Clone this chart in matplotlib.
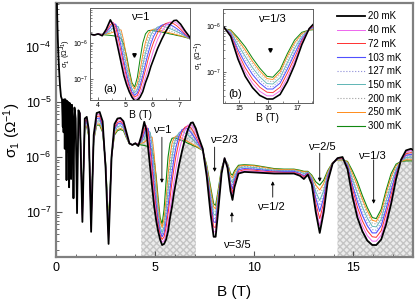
import numpy as np
import matplotlib
matplotlib.use('Agg')
import matplotlib.pyplot as plt
from matplotlib.ticker import LogLocator, MultipleLocator, NullFormatter

plt.rcParams['font.family'] = ['Liberation Sans', 'DejaVu Sans']
plt.rcParams['mathtext.default'] = 'regular'

temps = ['20 mK', '40 mK', '72 mK', '103 mK', '127 mK', '150 mK', '200 mK', '250 mK', '300 mK']
colors = ['k', '#ee66ee', '#ff3030', '#5050ff', '#8c8cd8', '#5fb5b5', '#a0a0a0', '#ff8c1a', '#118811']
styles = ['-', '-', '-', '-', ':', '-', ':', '-', '-']
widths = [1.3, 0.7, 0.7, 0.8, 0.8, 0.7, 0.8, 0.7, 0.8]

# low field SdH part, only the 20 mK trace is visible there (log10 sigma)
B_sdh = [0.03, 0.06, 0.09, 0.12, 0.16, 0.2, 0.25, 0.3, 0.34, 0.36, 0.38, 0.41, 0.44, 0.47, 0.5,
         0.53, 0.56, 0.59, 0.62, 0.66, 0.7, 0.73, 0.76, 0.8, 0.84, 0.88, 0.93, 0.99, 1.06, 1.13]
lg_sdh = [-2.9, -3.45, -3.85, -4.15, -4.45, -4.7, -4.9, -4.95, -5.45, -4.97, -5.55, -4.95, -5.85, -4.95, -5.2,
          -6.42, -4.98, -5.9, -5.0, -6.55, -5.02, -5.6, -6.4, -5.05, -5.3, -6.75, -5.1, -5.3, -7.02, -5.15]

# common field grid for all temperatures
B = [1.2, 1.33, 1.45, 1.55, 1.65, 1.77, 1.9, 2.05, 2.2, 2.35, 2.5, 2.65, 2.8, 2.95, 3.1, 3.25, 3.4, 3.55, 3.7, 3.85,
     4.0, 4.15, 4.3, 4.45, 4.55, 4.65, 4.75, 4.85, 4.95, 5.05, 5.15, 5.25, 5.35, 5.45, 5.55, 5.65, 5.75, 5.85, 5.95, 6.05, 6.2, 6.35, 6.5, 6.65, 6.8, 6.9, 7.05, 7.2, 7.4,
     7.6, 7.8, 7.95, 8.05, 8.2, 8.35, 8.5, 8.65, 8.8, 8.9, 9.0, 9.2, 9.5,
     10.0, 10.5, 11.0, 11.5, 12.0, 12.3, 12.5, 12.7, 12.9, 13.1, 13.3, 13.5, 13.7, 13.95, 14.2, 14.45, 14.7, 14.95, 15.2, 15.45, 15.7, 15.95, 16.15, 16.4, 16.65, 16.9, 17.15, 17.4, 17.65, 17.9, 18.0]

lg20 = [-5.20, -7.18, -5.30, -5.27, -5.50, -7.36, -5.60, -5.20, -5.18, -5.35, -6.20, -7.58, -6.00, -5.40, -5.30, -5.29, -5.35, -5.55, -5.75, -5.78,
        -5.75, -5.80, -5.62, -5.36, -5.50, -5.85, -6.20, -6.55, -6.90, -7.15, -7.35, -7.50, -7.60, -7.58, -7.50, -7.35, -7.10, -6.90, -6.65, -6.45, -6.15, -5.90, -5.68, -5.50, -5.38, -5.37, -5.48, -5.65, -5.85,
        -6.35, -7.05, -7.45, -7.45, -6.90, -6.30, -6.02, -6.20, -6.62, -6.78, -6.55, -6.30, -6.27,
        -6.28, -6.29, -6.30, -6.30, -6.30, -6.34, -6.40, -6.32, -6.50, -7.00, -7.38, -7.00, -6.45, -6.12, -6.02, -6.00, -6.22, -6.72, -7.10, -7.35, -7.52, -7.60, -7.60, -7.50, -7.22, -6.85, -6.40, -6.05, -5.88, -5.85, -5.87]
lg40 = [-5.20, -7.14, -5.32, -5.30, -5.52, -7.31, -5.62, -5.23, -5.22, -5.38, -6.19, -7.52, -6.00, -5.43, -5.33, -5.32, -5.38, -5.57, -5.75, -5.78,
        -5.75, -5.78, -5.65, -5.42, -5.43, -5.70, -6.05, -6.40, -6.75, -7.05, -7.30, -7.48, -7.55, -7.52, -7.40, -7.20, -6.95, -6.70, -6.45, -6.20, -5.90, -5.68, -5.52, -5.42, -5.41, -5.45, -5.55, -5.70, -5.85,
        -6.32, -6.98, -7.36, -7.36, -6.85, -6.29, -6.02, -6.19, -6.57, -6.71, -6.51, -6.28, -6.25,
        -6.26, -6.27, -6.29, -6.29, -6.29, -6.33, -6.38, -6.31, -6.47, -6.92, -7.25, -6.91, -6.42, -6.12, -6.02, -6.01, -6.20, -6.65, -7.00, -7.25, -7.43, -7.53, -7.53, -7.42, -7.13, -6.77, -6.36, -6.05, -5.91, -5.88, -5.90]
lg72 = [-5.21, -7.10, -5.35, -5.32, -5.54, -7.25, -5.63, -5.27, -5.25, -5.41, -6.17, -7.47, -6.00, -5.46, -5.37, -5.35, -5.40, -5.58, -5.75, -5.78,
        -5.75, -5.77, -5.68, -5.50, -5.43, -5.55, -5.90, -6.25, -6.62, -6.95, -7.22, -7.42, -7.50, -7.45, -7.28, -7.03, -6.75, -6.45, -6.20, -5.98, -5.72, -5.55, -5.46, -5.43, -5.47, -5.52, -5.62, -5.74, -5.86,
        -6.29, -6.90, -7.27, -7.28, -6.80, -6.27, -6.03, -6.18, -6.52, -6.65, -6.46, -6.26, -6.23,
        -6.24, -6.26, -6.27, -6.28, -6.28, -6.31, -6.36, -6.30, -6.45, -6.84, -7.12, -6.83, -6.39, -6.11, -6.03, -6.02, -6.18, -6.58, -6.91, -7.16, -7.34, -7.45, -7.46, -7.34, -7.03, -6.69, -6.32, -6.06, -5.94, -5.92, -5.93]
lg103 = [-5.21, -7.05, -5.37, -5.35, -5.55, -7.20, -5.65, -5.30, -5.29, -5.44, -6.16, -7.41, -6.00, -5.49, -5.40, -5.38, -5.43, -5.60, -5.75, -5.78,
         -5.75, -5.77, -5.70, -5.57, -5.48, -5.48, -5.75, -6.10, -6.50, -6.85, -7.15, -7.36, -7.45, -7.38, -7.18, -6.90, -6.58, -6.28, -6.02, -5.82, -5.62, -5.51, -5.47, -5.49, -5.55, -5.60, -5.68, -5.77, -5.87,
         -6.26, -6.83, -7.18, -7.19, -6.74, -6.26, -6.03, -6.16, -6.48, -6.58, -6.42, -6.23, -6.21,
         -6.22, -6.24, -6.26, -6.26, -6.26, -6.30, -6.34, -6.29, -6.42, -6.75, -6.99, -6.74, -6.36, -6.11, -6.03, -6.02, -6.16, -6.51, -6.81, -7.06, -7.25, -7.38, -7.38, -7.25, -6.94, -6.60, -6.28, -6.06, -5.97, -5.95, -5.96]
lg127 = [-5.21, -7.02, -5.39, -5.37, -5.57, -7.15, -5.66, -5.33, -5.32, -5.46, -6.14, -7.36, -6.00, -5.51, -5.43, -5.41, -5.45, -5.61, -5.76, -5.78,
         -5.75, -5.76, -5.72, -5.62, -5.53, -5.49, -5.62, -5.95, -6.38, -6.76, -7.08, -7.32, -7.42, -7.33, -7.08, -6.76, -6.42, -6.12, -5.88, -5.72, -5.57, -5.50, -5.51, -5.55, -5.61, -5.65, -5.72, -5.79, -5.88,
         -6.24, -6.77, -7.11, -7.13, -6.70, -6.24, -6.04, -6.15, -6.44, -6.52, -6.38, -6.21, -6.20,
         -6.21, -6.23, -6.25, -6.25, -6.25, -6.28, -6.32, -6.29, -6.40, -6.69, -6.88, -6.67, -6.34, -6.11, -6.04, -6.03, -6.14, -6.45, -6.73, -6.98, -7.18, -7.32, -7.33, -7.19, -6.87, -6.54, -6.25, -6.07, -5.99, -5.98, -5.98]
lg150 = [-5.21, -6.99, -5.40, -5.39, -5.58, -7.12, -5.67, -5.35, -5.34, -5.49, -6.13, -7.32, -6.00, -5.54, -5.45, -5.43, -5.47, -5.62, -5.76, -5.78,
         -5.75, -5.76, -5.73, -5.66, -5.59, -5.53, -5.55, -5.82, -6.25, -6.66, -7.00, -7.27, -7.38, -7.27, -6.98, -6.62, -6.28, -6.00, -5.78, -5.65, -5.56, -5.53, -5.56, -5.60, -5.65, -5.68, -5.74, -5.80, -5.88,
         -6.21, -6.71, -7.04, -7.06, -6.66, -6.23, -6.04, -6.15, -6.40, -6.47, -6.35, -6.20, -6.18,
         -6.19, -6.22, -6.24, -6.25, -6.25, -6.27, -6.30, -6.28, -6.38, -6.63, -6.79, -6.61, -6.31, -6.11, -6.04, -6.03, -6.12, -6.40, -6.66, -6.91, -7.11, -7.26, -7.27, -7.13, -6.80, -6.48, -6.22, -6.07, -6.01, -6.00, -6.01]
lg200 = [-5.22, -6.96, -5.42, -5.41, -5.60, -7.07, -5.68, -5.38, -5.37, -5.51, -6.12, -7.28, -6.00, -5.56, -5.48, -5.46, -5.49, -5.63, -5.76, -5.78,
         -5.75, -5.76, -5.74, -5.70, -5.65, -5.60, -5.57, -5.68, -6.10, -6.55, -6.92, -7.22, -7.33, -7.20, -6.88, -6.48, -6.12, -5.86, -5.70, -5.62, -5.58, -5.60, -5.63, -5.67, -5.70, -5.72, -5.76, -5.81, -5.88,
         -6.19, -6.65, -6.97, -6.99, -6.62, -6.22, -6.04, -6.14, -6.36, -6.42, -6.31, -6.18, -6.17,
         -6.18, -6.20, -6.23, -6.24, -6.24, -6.26, -6.29, -6.27, -6.36, -6.56, -6.68, -6.54, -6.29, -6.10, -6.04, -6.04, -6.11, -6.34, -6.58, -6.83, -7.04, -7.20, -7.22, -7.06, -6.72, -6.41, -6.18, -6.07, -6.03, -6.03, -6.03]
lg250 = [-5.22, -6.93, -5.44, -5.43, -5.61, -7.04, -5.69, -5.40, -5.40, -5.53, -6.11, -7.24, -6.00, -5.58, -5.50, -5.48, -5.50, -5.64, -5.76, -5.78,
         -5.75, -5.76, -5.75, -5.73, -5.70, -5.67, -5.64, -5.64, -5.95, -6.42, -6.84, -7.16, -7.28, -7.12, -6.76, -6.33, -5.98, -5.75, -5.65, -5.62, -5.63, -5.66, -5.69, -5.72, -5.75, -5.77, -5.80, -5.83, -5.88,
         -6.17, -6.60, -6.91, -6.94, -6.59, -6.21, -6.05, -6.13, -6.33, -6.38, -6.28, -6.17, -6.15,
         -6.16, -6.19, -6.22, -6.23, -6.23, -6.25, -6.27, -6.27, -6.35, -6.51, -6.60, -6.48, -6.27, -6.10, -6.05, -6.05, -6.09, -6.30, -6.52, -6.77, -6.98, -7.15, -7.17, -7.01, -6.66, -6.36, -6.16, -6.08, -6.05, -6.05, -6.05]
lg300 = [-5.22, -6.90, -5.45, -5.45, -5.62, -7.00, -5.70, -5.42, -5.42, -5.55, -6.10, -7.20, -6.00, -5.60, -5.52, -5.50, -5.52, -5.65, -5.76, -5.78,
         -5.76, -5.77, -5.78, -5.79, -5.80, -5.81, -5.83, -5.88, -6.05, -6.35, -6.75, -7.10, -7.22, -6.95, -6.45, -6.00, -5.75, -5.66, -5.65, -5.66, -5.68, -5.70, -5.72, -5.75, -5.77, -5.79, -5.81, -5.84, -5.88,
         -6.15, -6.55, -6.85, -6.88, -6.55, -6.20, -6.05, -6.12, -6.30, -6.33, -6.25, -6.15, -6.14,
         -6.15, -6.18, -6.21, -6.22, -6.22, -6.24, -6.26, -6.26, -6.33, -6.45, -6.51, -6.42, -6.25, -6.10, -6.05, -6.05, -6.08, -6.25, -6.45, -6.70, -6.92, -7.10, -7.12, -6.95, -6.60, -6.30, -6.13, -6.08, -6.07, -6.07, -6.07]

series = [lg20, lg40, lg72, lg103, lg127, lg150, lg200, lg250, lg300]

# filling factor labels: text position and arrow (B, log10 from, log10 to)
nu_text = ['ν=1', 'ν=2/3', 'ν=3/5', 'ν=1/2', 'ν=2/5', 'ν=1/3']
nu_text_B = [5.34, 8.46, 9.12, 10.83, 13.4, 15.92]
nu_text_lg = [-5.51, -5.69, -7.6, -6.91, -5.82, -5.98]
arrow_B = [5.34, 8.0, 8.87, 10.93, 13.3, 16.02]
arrow_from = [-5.64, -5.82, -7.18, -6.73, -5.93, -6.05]
arrow_to = [-6.47, -6.27, -7.0, -6.44, -6.45, -6.85]

Bg = np.array(B)
sig = [10 ** np.array(s) for s in series]
B_black = np.concatenate([B_sdh, Bg])
sig_black = 10 ** np.concatenate([lg_sdh, lg20])

fig = plt.figure(figsize=(4.15, 3.05), dpi=100)
ax = fig.add_axes([0.135, 0.157, 0.860, 0.833])

ylo, yhi = 10 ** -7.82, 10 ** -3.2
# hatched regions under the 20 mK curve
for lo, hi in [(4.3, 7.05), (14.2, 18.0)]:
    ax.fill_between(Bg, ylo / 10, sig[0], where=(Bg >= lo) & (Bg <= hi),
                    facecolor='#ececec', edgecolor='#c4c4c4', hatch='xxxxx', linewidth=0, zorder=1)

handles = [None] * 9
for i in range(8, -1, -1):
    if i == 0:
        h, = ax.plot(B_black, sig_black, color=colors[0], ls=styles[0], lw=widths[0], zorder=3)
    else:
        h, = ax.plot(Bg, sig[i], color=colors[i], ls=styles[i], lw=widths[i], zorder=2)
    handles[i] = h

ax.set_yscale('log')
ax.set_xlim(0, 18)
ax.set_ylim(ylo, yhi)
ax.xaxis.set_major_locator(MultipleLocator(5))
ax.xaxis.set_minor_locator(MultipleLocator(1))
ax.yaxis.set_major_locator(LogLocator(base=10))
ax.yaxis.set_minor_locator(LogLocator(base=10, subs=np.arange(2, 10)))
ax.yaxis.set_minor_formatter(NullFormatter())
ax.tick_params(which='both', direction='in', color='#555555', labelsize=9)
ax.tick_params(which='major', length=4, width=0.8)
ax.tick_params(which='minor', length=2.2, width=0.6)
for sp in ax.spines.values():
    sp.set_color('#808080')
    sp.set_linewidth(1.6)
ax.set_xlabel('B (T)', fontsize=11, labelpad=8)
ax.set_ylabel('σ$_1$ (Ω$^{-1}$)', fontsize=11, labelpad=2)

for t, tb, tl in zip(nu_text, nu_text_B, nu_text_lg):
    ax.text(tb, 10 ** tl, t, fontsize=8, ha='center', va='center', zorder=5)
for ab, af, at in zip(arrow_B, arrow_from, arrow_to):
    ax.annotate('', xy=(ab, 10 ** at), xytext=(ab, 10 ** af),
                arrowprops=dict(arrowstyle='-|>', color='k', lw=0.6, mutation_scale=5, shrinkA=0, shrinkB=0),
                zorder=5)

ax.legend(handles, temps, loc='upper right', bbox_to_anchor=(0.985, 0.99), frameon=False, fontsize=7,
          handlelength=2.9, labelspacing=0.38, handletextpad=0.3, borderaxespad=0.2)

# insets
insets = [
    dict(rect=[0.217, 0.672, 0.241, 0.302], xlim=(3.7, 7.4), ylim=(10 ** -7.58, 10 ** -5.03),
         title='ν=1', tag='(a)', mark=(5.33, 10 ** -6.33), tx=0.5, ty=0.9, gx=0.2, gy=0.12),
    dict(rect=[0.537, 0.662, 0.217, 0.308], xlim=(14.43, 17.53), ylim=(10 ** -7.69, 10 ** -5.62),
         title='ν=1/3', tag='(b)', mark=(16.05, 10 ** -6.51), tx=0.54, ty=0.9, gx=0.14, gy=0.1),
]
for ins in insets:
    ia = fig.add_axes(ins['rect'])
    for i in range(8, -1, -1):
        ia.plot(Bg, sig[i], color=colors[i], ls=styles[i], lw=widths[i] * 0.9)
    ia.set_yscale('log')
    ia.set_xlim(*ins['xlim'])
    ia.set_ylim(*ins['ylim'])
    ia.xaxis.set_major_locator(MultipleLocator(1))
    ia.xaxis.set_minor_locator(MultipleLocator(0.5))
    ia.yaxis.set_major_locator(LogLocator(base=10))
    ia.yaxis.set_minor_locator(LogLocator(base=10, subs=np.arange(2, 10)))
    ia.yaxis.set_minor_formatter(NullFormatter())
    ia.tick_params(which='both', direction='in', labelsize=5, pad=1.5, color='#555555')
    ia.tick_params(which='major', length=2.5, width=0.6)
    ia.tick_params(which='minor', length=1.2, width=0.5)
    for sp in ia.spines.values():
        sp.set_color('#606060')
        sp.set_linewidth(0.7)
    ia.set_xlabel('B (T)', fontsize=7.5, labelpad=0.5)
    ia.set_ylabel('σ$_1$ (Ω$^{-1}$)', fontsize=5.5, labelpad=0)
    ia.plot([ins['mark'][0]], [ins['mark'][1]], marker='v', color='k', ms=2.5, ls='none')
    ia.text(ins['tx'], ins['ty'], ins['title'], transform=ia.transAxes, fontsize=8, ha='center', va='center')
    ia.text(ins['gx'], ins['gy'], ins['tag'], transform=ia.transAxes, fontsize=8, ha='center', va='center')

fig.savefig('out.png', dpi=100)
